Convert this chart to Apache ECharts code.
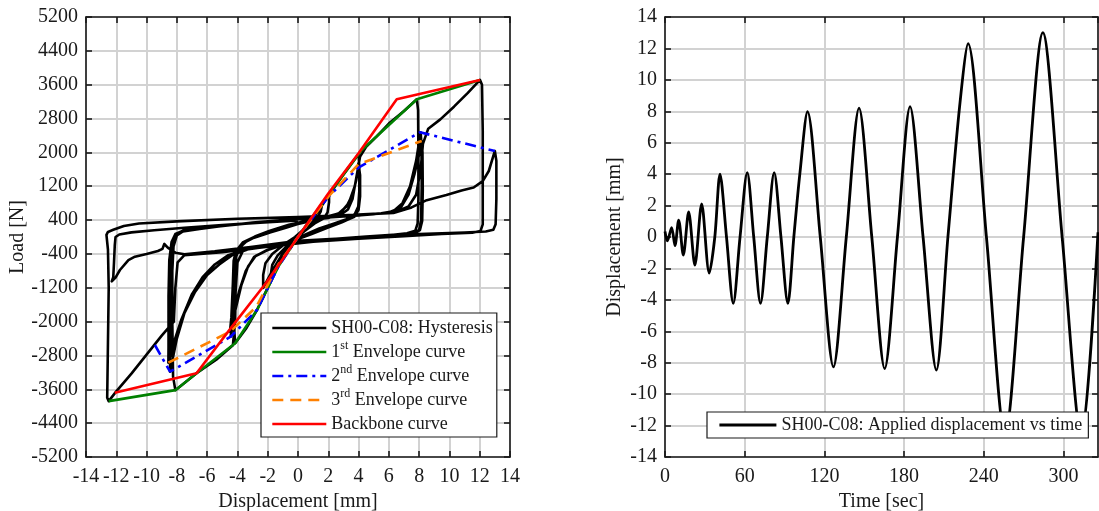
<!DOCTYPE html>
<html>
<head>
<meta charset="utf-8">
<script src="https://cdn.jsdelivr.net/npm/echarts@6/dist/echarts.min.js"></script>
<style>
  html, body { margin: 0; padding: 0; background: #fff; }
  #chart { width: 1099px; height: 511px; }
</style>
</head>
<body>
<div id="chart"></div>
<script>
// ---- Load-displacement hysteresis of specimen SH00-C08, [displacement mm, load N] ----
const hystInitial = [
  [0,0],[0.3,150],[0.6,300],[0.5,200],[0.25,80],[-0.1,-40],[-0.5,-240],[-0.4,-140],[-0.15,-30],
  [0.3,140],[0.7,340],[1.1,550],[0.95,400],[0.6,230],[0.1,40],[-0.4,-190],[-0.8,-400],[-1.15,-570],[-1.0,-420],[-0.6,-220],[-0.1,-30],
  [0.5,200],[1.0,470],[1.6,790],[1.5,600],[1.2,420],[0.6,220],[0,20],[-0.7,-300],[-1.3,-630],[-1.8,-890],[-1.7,-660],[-1.35,-440],[-0.7,-200],[-0.1,-20]
];
const hyst2mm = [
  [0.5,220],[1.2,560],[1.7,820],[2.05,1000],[2.05,820],[1.95,580],[1.7,440],[1.1,320],[0.4,130],[-0.3,-80],[-1.0,-380],[-1.7,-800],[-2.3,-1200],
  [-2.3,-900],[-2.15,-620],[-1.7,-400],[-0.9,-170],[-0.2,0]
];
const hyst4mmA = [
  [0.6,250],[1.4,650],[2.2,1070],[3.0,1480],[4.0,1960],[4.05,1650],[4.05,1100],[3.98,720],[3.75,540],[3.2,420],[2.4,320],[1.4,200],[0.5,60],[-0.3,-90],
  [-1.0,-420],[-1.8,-1050],[-2.7,-1720],[-3.4,-2150],[-4.15,-2510],
  [-4.2,-2250],[-4.2,-1500],[-4.15,-820],[-4.08,-460],[-3.85,-250],[-3.4,-100],[-2.7,20],[-1.8,110],[-0.8,220],[0.2,330]
];
const hyst4mmB = [
  [1.1,400],[2.0,480],[2.7,560],[3.2,720],[3.6,1000],[3.85,1350],[3.99,1663],[4.07,1420],[4.07,900],[3.97,630],[3.65,470],[2.9,350],[1.9,210],[0.9,70],[0,-50],[-1.0,-190],[-2.0,-310],
  [-2.8,-450],[-3.3,-700],[-3.75,-1150],[-4.15,-1750],[-4.45,-2357],
  [-4.35,-2050],[-4.27,-1250],[-4.22,-620],[-4.07,-360],[-3.7,-160],[-3.0,-30],[-2.0,90],[-1.0,210],[0,310]
];
const hyst4mmC = [
  [1.0,390],[2.0,490],[2.8,570],[3.35,800],[3.75,1200],[3.92,1500],[3.99,1742],[4.1,1460],[4.1,960],[4.0,640],[3.72,480],[2.95,360],[1.95,230],[0.95,90],[0,-40],[-1.0,-180],[-2.0,-300],
  [-2.9,-470],[-3.45,-800],[-3.9,-1300],[-4.3,-1850],[-4.49,-2238],
  [-4.4,-1900],[-4.3,-1100],[-4.25,-560],[-4.1,-330],[-3.65,-130],[-2.85,10],[-1.9,140],[-0.6,290],[0.8,400],[2.0,450]
];
const hyst8mmA = [
  [2.8,520],[3.3,650],[3.6,900],[3.85,1400],[4.1,1900],[4.5,2130],[5.2,2380],[6.0,2680],[7.0,2980],[7.85,3255],
  [7.93,3000],[7.95,2000],[7.95,900],[7.9,320],[7.75,150],[7.2,90],[6.0,40],[4.0,-20],[2.0,-70],[0,-120],[-2.0,-210],[-3.6,-300],
  [-4.0,-600],[-4.12,-1300],[-4.15,-2000],[-4.3,-2560],[-5.4,-2900],[-6.7,-3220],[-7.4,-3420],[-8.1,-3620],
  [-8.25,-3300],[-8.3,-2000],[-8.3,-800],[-8.22,-220],[-8.0,40],[-7.6,130],[-6.5,190],[-5.0,260],[-3.0,340],[-1.0,400],[1.0,440],[3.0,490],[4.5,530]
];
const hyst8mmB = [
  [5.5,560],[6.3,610],[6.9,800],[7.4,1200],[7.8,1800],[8.1,2475],
  [8.15,2200],[8.17,1200],[8.13,400],[8.0,170],[7.7,100],[6.5,60],[4.5,10],[2.5,-40],[0.5,-100],[-1.5,-190],[-3.2,-280],
  [-4.3,-420],[-5.2,-650],[-6.0,-900],[-6.8,-1300],[-7.5,-1800],[-8.0,-2400],[-8.45,-3184],
  [-8.45,-2800],[-8.45,-1500],[-8.42,-600],[-8.3,-150],[-8.1,60],[-7.6,150],[-6.3,210],[-4.5,280],[-2.5,350],[-0.5,410],[1.5,450],[3.5,500]
];
const hyst8mmC = [
  [5.0,540],[6.0,580],[6.8,700],[7.3,1000],[7.7,1500],[8.0,1950],[8.17,2270],
  [8.22,2000],[8.24,1100],[8.2,380],[8.05,160],[7.7,90],[6.5,50],[4.5,0],[2.5,-50],[0.5,-110],[-1.5,-200],[-3.5,-300],
  [-4.6,-430],[-5.5,-650],[-6.3,-950],[-7.0,-1350],[-7.7,-1950],[-8.2,-2500],[-8.56,-2971],
  [-8.55,-2600],[-8.55,-1400],[-8.5,-550],[-8.35,-120],[-8.1,70],[-7.5,160],[-6.0,220],[-4.0,300],[-2.0,370],[0,420],[2.0,460],[4.0,510]
];
const hyst12mm = [
  [5.5,560],[6.5,600],[7.3,720],[7.8,1000],[8.1,1600],[8.25,2200],[8.6,2560],[9.4,2780],[10.3,3080],[11.2,3400],[12.02,3712],
  [12.15,3600],[12.2,2500],[12.2,1000],[12.2,300],[12.05,140],[11.5,100],[9.5,70],[7.0,20],[4.0,-40],[1.0,-110],[-2.0,-230],[-5.0,-360],[-7.5,-430],
  [-7.95,-600],[-8.1,-1200],[-8.2,-2000],[-9.0,-2330],[-10.0,-2780],[-11.0,-3230],[-12.0,-3650],[-12.5,-3880],
  [-12.6,-3800],[-12.55,-2500],[-12.5,-1200],[-12.55,-300],[-12.65,50],[-12.55,120],[-12.2,170],[-11.5,260],[-10.5,320],[-8.0,370],[-4.0,430],[0,470],[3.0,510],[6.3,570]
];
const hyst13mm = [
  [7.5,700],[8.5,870],[9.8,990],[10.8,1100],[11.6,1170],[12.2,1320],[12.6,1560],[13.0,2033],
  [13.1,1800],[13.1,900],[13.05,300],[12.9,170],[12.4,130],[11.0,105],[8.0,70],[4.0,-10],[0,-90],[-3.0,-230],[-5.5,-340],[-7.5,-410],
  [-8.1,-370],[-8.6,-250],[-8.83,-165],[-8.95,-280],[-9.25,-330],[-10.0,-400],[-10.77,-465],[-11.2,-545],[-11.76,-780],[-12.05,-960],[-12.3,-1050],
  [-12.2,-950],[-12.15,-600],[-12.1,-200],[-12.05,0],[-11.8,60],[-11.0,110],[-9.5,160],[-7.5,220],[-5.0,280],[-2.5,340],[0,390]
];

// ---- Envelope and backbone curves, [displacement mm, load N] ----
const envelope1 = [[-12.5,-3880],[-8.1,-3620],[-6.7,-3220],[-4.15,-2510],[-2.7,-1720],[-1.3,-700],[0,0],[2,990],[4.2,2050],[7.85,3255],[12.02,3712]];
const envelope2 = [[-9.45,-2553],[-8.45,-3184],[-4.45,-2357],[-2.7,-1720],[-1.3,-700],[0,0],[2,950],[3.99,1640],[8.06,2475],[13.0,2033]];
const envelope3 = [[-8.56,-2971],[-4.49,-2238],[-2.75,-1650],[-1.3,-650],[0,0],[2,953],[3.99,1720],[8.17,2270]];
const backbone  = [[-12.1,-3680],[-6.7,-3220],[-4.45,-2160],[-2.1,-1080],[0,0],[2,1030],[4,1980],[6.52,3255],[12.02,3712]];

// ---- Applied displacement history ----
const timeSec = [0,1.8,5,7.5,10.3,13.8,17.8,22.5,27.6,33.3,37.5,41.4,46.3,51.4,56.5,61.9,66.8,71.9,77,82.2,
  87.3,92.5,97,101.5,107.3,116.9,126.8,136.5,146.1,155.7,165.4,175,184.5,194.3,204.3,213,221.8,228.2,242,256,
  270,284.5,299,313.5,326];
const dispMm = [0.35,-0.25,0.6,-0.55,1.08,-1.15,1.59,-1.79,2.1,-2.3,0,4.0,0,-4.23,0,4.1,0,-4.23,0,4.1,
  0,-4.23,0,4.0,7.98,0,-8.27,0,8.2,0,-8.37,0,8.3,0,-8.47,0,8.3,12.3,0,-12.6,
  0,13.0,0,-12.7,0.3];

// ---- Axis ranges ----
const dispTicks = { min: -14, max: 14, step: 2 };
const loadTicks = { min: -5200, max: 5200, step: 800 };
const timeTicks = { min: 0, max: 326, step: 60 };
const dispHistTicks = { min: -14, max: 14, step: 2 };

const hysteresis = [].concat(hystInitial, hyst2mm, hyst4mmA, hyst4mmB, hyst4mmC, hyst8mmA, hyst8mmB, hyst8mmC, hyst12mm, hyst13mm);
const history = timeSec.map((t, i) => [t, dispMm[i]]);

const FONT = 'Liberation Serif';
const INK = '#1a1a1a';
const GRID_LINE = { show: true, lineStyle: { color: '#d2d2d2', width: 2 } };

function mainAxis(r, extra) {
  return Object.assign({
    type: 'value', min: r.min, max: r.max, interval: r.step,
    axisLine: { show: true, onZero: false, lineStyle: { color: INK, width: 1.6 } },
    axisTick: { show: true, inside: true, length: 6, lineStyle: { color: INK, width: 1.6 } },
    axisLabel: { show: true, color: INK, fontFamily: FONT, fontSize: 20, formatter: v => String(v), showMaxLabel: true },
    splitLine: GRID_LINE,
    nameTextStyle: { color: INK, fontFamily: FONT, fontSize: 20 },
    nameLocation: 'middle'
  }, extra || {});
}
function mirrorAxis(r, extra) {
  return Object.assign({
    type: 'value', min: r.min, max: r.max, interval: r.step,
    axisLine: { show: true, onZero: false, lineStyle: { color: INK, width: 1.6 } },
    axisTick: { show: true, inside: true, length: 6, lineStyle: { color: INK, width: 1.6 } },
    axisLabel: { show: false },
    splitLine: { show: false }
  }, extra || {});
}

function legendText(name) {
  const m = name.match(/^(\d)(st|nd|rd) (.*)$/);
  if (m) return '{b|' + m[1] + '}{sup|' + m[2] + '}{b| ' + m[3] + '}';
  return '{b|' + name + '}';
}
const legendRich = {
  b: { fontFamily: FONT, fontSize: 18, color: INK, lineHeight: 24 },
  sup: { fontFamily: FONT, fontSize: 12, color: INK, lineHeight: 13, verticalAlign: 'top' }
};
// line-only legend keys (no marker dot), drawn at full stroke width
const legendKeyStyle = { opacity: 0, borderWidth: 0 };
const legendKeyLine = { width: 2.6 };

const option = {
  animation: false,
  backgroundColor: '#ffffff',
  grid: [
    { left: 86, top: 17, width: 424, height: 440, containLabel: false, outerBoundsMode: 'none' },
    { left: 665, top: 17, width: 433, height: 440, containLabel: false, outerBoundsMode: 'none' }
  ],
  xAxis: [
    mainAxis(dispTicks, { gridIndex: 0, position: 'bottom', name: 'Displacement [mm]', nameGap: 31,
      axisLabel: { color: INK, fontFamily: FONT, fontSize: 20, margin: 10, formatter: v => String(v) } }),
    mirrorAxis(dispTicks, { gridIndex: 0, position: 'top' }),
    mainAxis(timeTicks, { gridIndex: 1, position: 'bottom', name: 'Time [sec]', nameGap: 31,
      axisLabel: { color: INK, fontFamily: FONT, fontSize: 20, margin: 10, formatter: v => String(v), showMaxLabel: false } }),
    mirrorAxis(timeTicks, { gridIndex: 1, position: 'top' })
  ],
  yAxis: [
    mainAxis(loadTicks, { gridIndex: 0, position: 'left', name: 'Load [N]', nameGap: 56,
      axisLabel: { color: INK, fontFamily: FONT, fontSize: 20, margin: 8, formatter: v => String(v) } }),
    mirrorAxis(loadTicks, { gridIndex: 0, position: 'right' }),
    mainAxis(dispHistTicks, { gridIndex: 1, position: 'left', name: 'Displacement [mm]', nameGap: 40,
      axisLabel: { color: INK, fontFamily: FONT, fontSize: 20, margin: 8, formatter: v => String(v) } }),
    mirrorAxis(dispHistTicks, { gridIndex: 1, position: 'right' })
  ],
  legend: [
    {
      data: ['SH00-C08: Hysteresis', '1st Envelope curve', '2nd Envelope curve', '3rd Envelope curve', 'Backbone curve'],
      orient: 'vertical', left: 261, top: 313,
      itemWidth: 54, itemHeight: 14, itemGap: 0, itemTextGap: 5,
      padding: [3, 4, 1, 10],
      backgroundColor: '#ffffff', borderColor: INK, borderWidth: 1.2, borderRadius: 0,
      selectedMode: false,
      itemStyle: legendKeyStyle,
      lineStyle: legendKeyLine,
      formatter: legendText,
      textStyle: { rich: legendRich, lineHeight: 24 }
    },
    {
      data: ['SH00-C08: Applied displacement vs time'],
      orient: 'horizontal', left: 707, top: 412,
      itemWidth: 57, itemHeight: 14, itemGap: 0, itemTextGap: 5,
      padding: [1, 6, 1, 11],
      backgroundColor: '#ffffff', borderColor: INK, borderWidth: 1.2, borderRadius: 0,
      selectedMode: false,
      itemStyle: legendKeyStyle,
      lineStyle: { width: 2.8 },
      formatter: legendText,
      textStyle: { rich: legendRich, lineHeight: 24 }
    }
  ],
  series: [
    { name: 'SH00-C08: Hysteresis', type: 'line', xAxisIndex: 0, yAxisIndex: 0, data: hysteresis,
      symbol: 'none', showSymbol: false, lineStyle: { color: '#000000', width: 2.6, join: 'round' }, itemStyle: { color: '#000000' } },
    { name: '1st Envelope curve', type: 'line', xAxisIndex: 0, yAxisIndex: 0, data: envelope1,
      symbol: 'none', showSymbol: false, lineStyle: { color: '#008000', width: 2.6 }, itemStyle: { color: '#008000' } },
    { name: '2nd Envelope curve', type: 'line', xAxisIndex: 0, yAxisIndex: 0, data: envelope2,
      symbol: 'none', showSymbol: false, lineStyle: { color: '#0000ff', width: 2.6, type: [11, 5, 3, 5] }, itemStyle: { color: '#0000ff' } },
    { name: '3rd Envelope curve', type: 'line', xAxisIndex: 0, yAxisIndex: 0, data: envelope3,
      symbol: 'none', showSymbol: false, lineStyle: { color: '#ff8000', width: 2.6, type: [11, 7] }, itemStyle: { color: '#ff8000' } },
    { name: 'Backbone curve', type: 'line', xAxisIndex: 0, yAxisIndex: 0, data: backbone,
      symbol: 'none', showSymbol: false, lineStyle: { color: '#ff0000', width: 2.6 }, itemStyle: { color: '#ff0000' } },
    { name: 'SH00-C08: Applied displacement vs time', type: 'line', xAxisIndex: 2, yAxisIndex: 2, data: history,
      symbol: 'none', showSymbol: false, smooth: 0.3, lineStyle: { color: '#000000', width: 2.8 }, itemStyle: { color: '#000000' } }
  ]
};

const chart = echarts.init(document.getElementById('chart'), null, { renderer: 'canvas' });
chart.setOption(option);
</script>
</body>
</html>
